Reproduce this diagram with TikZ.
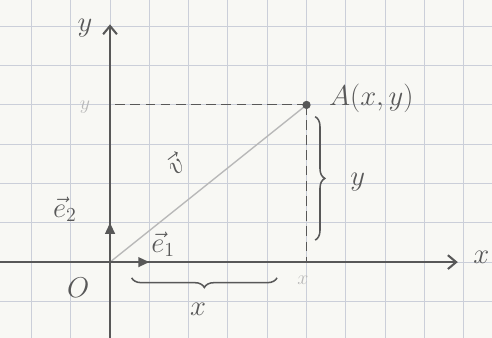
\documentclass[tikz,border=0pt]{standalone}
\usepackage{amsmath}
\usepackage{tikz}
\usetikzlibrary{arrows.meta,positioning,decorations.pathreplacing}
\definecolor{paperBg}{HTML}{F8F8F4}
\definecolor{gridLine}{HTML}{CBCFD9}
\definecolor{penGray}{HTML}{585858}
\definecolor{pencilGray}{HTML}{B8B8B8}
\tikzset{
  axisline/.style={penGray,line width=1.5pt,-{Straight Barb[length=6pt,width=10pt]}},
  basisvec/.style={penGray,line width=1.5pt,-{Triangle[length=8pt,width=7pt]}},
  guideline/.style={penGray,line width=0.8pt,dash pattern=on 7pt off 4pt},
  pencilline/.style={pencilGray,line width=1pt},
  handlabel/.style={penGray,font=\huge},
  faintlabel/.style={pencilGray,font=\Large},
  bracemark/.style={penGray,line width=1.1pt,decorate,decoration={brace,amplitude=7pt}},
}

\begin{document}
\begin{tikzpicture}
    % paper and squares
    \fill[paperBg] (-2.8,-1.93) rectangle (9.72,6.67);
    \useasboundingbox (-2.8,-1.93) rectangle (9.72,6.67);
    \draw[gridLine,line width=0.7pt] (-2.8,-1.93) grid (9.72,6.67);

    \coordinate (O) at (0,0);
    \coordinate (A) at (5,4);
    \coordinate (Ax) at (5,0);
    \coordinate (Ay) at (0.13,4);
    \coordinate (xstart) at (-2.8,0);
    \coordinate (xend) at (8.85,0);
    \coordinate (ystart) at (0,-1.93);
    \coordinate (yend) at (0,6.05);
    \coordinate (e1) at (1,0);
    \coordinate (e2) at (0,1);

    \draw[guideline] (Ay) -- (A);
    \draw[guideline] (A) -- (Ax);
    \draw[pencilline] (O) -- (A);
    \draw[axisline] (xstart) -- (xend);
    \draw[axisline] (ystart) -- (yend);
    \draw[basisvec] (O) -- (e1);
    \draw[basisvec] (O) -- (e2);
    \fill[penGray] (A) circle (3pt);

    \node[handlabel] (ylabel) at (-0.64,5.95) {$y$};
    \node[handlabel] (xlabel) at (9.45,0.13) {$x$};
    \node[handlabel,anchor=west] (Alabel) at (5.45,4.17) {$A(x,y)$};
    \node[handlabel] (Olabel) at (-0.81,-0.64) {$O$};
    \node[handlabel] (e1label) at (1.35,0.45) {$\vec{e}_1$};
    \node[handlabel] (e2label) at (-1.15,1.35) {$\vec{e}_2$};
    \node[handlabel,rotate=37] (vlabel) at (1.65,2.5) {$\vec{v}$};
    \node[faintlabel] (yproj) at (-0.64,3.94) {$y$};
    \node[faintlabel] (xproj) at (4.91,-0.46) {$x$};

    % lengths of the coordinates
    \coordinate (bxl) at (0.55,-0.4);
    \coordinate (bxr) at (4.25,-0.4);
    \draw[bracemark] (bxr) -- (bxl);
    \node[handlabel] (xlen) at (2.24,-1.2) {$x$};
    \coordinate (byt) at (5.22,3.7);
    \coordinate (byb) at (5.22,0.56);
    \draw[bracemark] (byt) -- (byb);
    \node[handlabel] (ylen) at (6.3,2.04) {$y$};
\end{tikzpicture}
\end{document}
